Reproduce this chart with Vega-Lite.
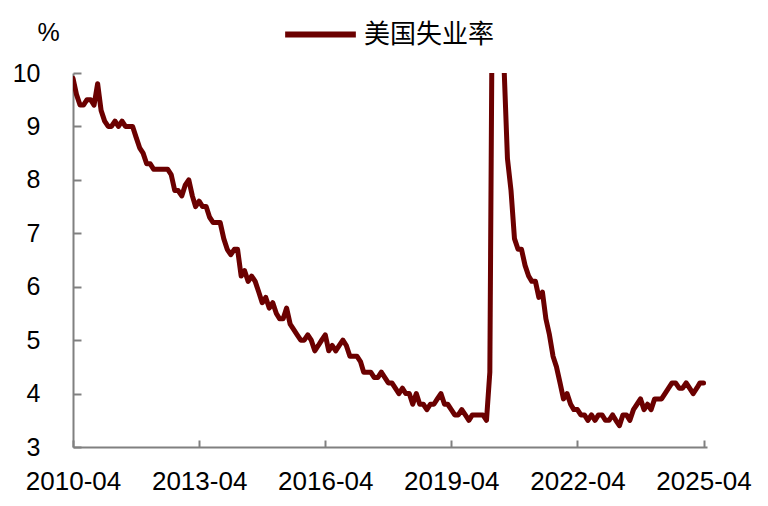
{
  "$schema": "https://vega.github.io/schema/vega-lite/v6.json",
  "autosize": "none",
  "width": 634,
  "height": 374,
  "padding": {"left": 73, "top": 73, "right": 61, "bottom": 59},
  "background": "white",
  "config": {"view": {"stroke": null}},
  "data": {"values": [
    {"date":"2010-04","rate":9.9},{"date":"2010-05","rate":9.6},{"date":"2010-06","rate":9.4},{"date":"2010-07","rate":9.4},{"date":"2010-08","rate":9.5},{"date":"2010-09","rate":9.5},{"date":"2010-10","rate":9.4},{"date":"2010-11","rate":9.8},{"date":"2010-12","rate":9.3},
    {"date":"2011-01","rate":9.1},{"date":"2011-02","rate":9.0},{"date":"2011-03","rate":9.0},{"date":"2011-04","rate":9.1},{"date":"2011-05","rate":9.0},{"date":"2011-06","rate":9.1},{"date":"2011-07","rate":9.0},{"date":"2011-08","rate":9.0},{"date":"2011-09","rate":9.0},{"date":"2011-10","rate":8.8},{"date":"2011-11","rate":8.6},{"date":"2011-12","rate":8.5},
    {"date":"2012-01","rate":8.3},{"date":"2012-02","rate":8.3},{"date":"2012-03","rate":8.2},{"date":"2012-04","rate":8.2},{"date":"2012-05","rate":8.2},{"date":"2012-06","rate":8.2},{"date":"2012-07","rate":8.2},{"date":"2012-08","rate":8.1},{"date":"2012-09","rate":7.8},{"date":"2012-10","rate":7.8},{"date":"2012-11","rate":7.7},{"date":"2012-12","rate":7.9},
    {"date":"2013-01","rate":8.0},{"date":"2013-02","rate":7.7},{"date":"2013-03","rate":7.5},{"date":"2013-04","rate":7.6},{"date":"2013-05","rate":7.5},{"date":"2013-06","rate":7.5},{"date":"2013-07","rate":7.3},{"date":"2013-08","rate":7.2},{"date":"2013-09","rate":7.2},{"date":"2013-10","rate":7.2},{"date":"2013-11","rate":6.9},{"date":"2013-12","rate":6.7},
    {"date":"2014-01","rate":6.6},{"date":"2014-02","rate":6.7},{"date":"2014-03","rate":6.7},{"date":"2014-04","rate":6.2},{"date":"2014-05","rate":6.3},{"date":"2014-06","rate":6.1},{"date":"2014-07","rate":6.2},{"date":"2014-08","rate":6.1},{"date":"2014-09","rate":5.9},{"date":"2014-10","rate":5.7},{"date":"2014-11","rate":5.8},{"date":"2014-12","rate":5.6},
    {"date":"2015-01","rate":5.7},{"date":"2015-02","rate":5.5},{"date":"2015-03","rate":5.4},{"date":"2015-04","rate":5.4},{"date":"2015-05","rate":5.6},{"date":"2015-06","rate":5.3},{"date":"2015-07","rate":5.2},{"date":"2015-08","rate":5.1},{"date":"2015-09","rate":5.0},{"date":"2015-10","rate":5.0},{"date":"2015-11","rate":5.1},{"date":"2015-12","rate":5.0},
    {"date":"2016-01","rate":4.8},{"date":"2016-02","rate":4.9},{"date":"2016-03","rate":5.0},{"date":"2016-04","rate":5.1},{"date":"2016-05","rate":4.8},{"date":"2016-06","rate":4.9},{"date":"2016-07","rate":4.8},{"date":"2016-08","rate":4.9},{"date":"2016-09","rate":5.0},{"date":"2016-10","rate":4.9},{"date":"2016-11","rate":4.7},{"date":"2016-12","rate":4.7},
    {"date":"2017-01","rate":4.7},{"date":"2017-02","rate":4.6},{"date":"2017-03","rate":4.4},{"date":"2017-04","rate":4.4},{"date":"2017-05","rate":4.4},{"date":"2017-06","rate":4.3},{"date":"2017-07","rate":4.3},{"date":"2017-08","rate":4.4},{"date":"2017-09","rate":4.3},{"date":"2017-10","rate":4.2},{"date":"2017-11","rate":4.2},{"date":"2017-12","rate":4.1},
    {"date":"2018-01","rate":4.0},{"date":"2018-02","rate":4.1},{"date":"2018-03","rate":4.0},{"date":"2018-04","rate":4.0},{"date":"2018-05","rate":3.8},{"date":"2018-06","rate":4.0},{"date":"2018-07","rate":3.8},{"date":"2018-08","rate":3.8},{"date":"2018-09","rate":3.7},{"date":"2018-10","rate":3.8},{"date":"2018-11","rate":3.8},{"date":"2018-12","rate":3.9},
    {"date":"2019-01","rate":4.0},{"date":"2019-02","rate":3.8},{"date":"2019-03","rate":3.8},{"date":"2019-04","rate":3.7},{"date":"2019-05","rate":3.6},{"date":"2019-06","rate":3.6},{"date":"2019-07","rate":3.7},{"date":"2019-08","rate":3.6},{"date":"2019-09","rate":3.5},{"date":"2019-10","rate":3.6},{"date":"2019-11","rate":3.6},{"date":"2019-12","rate":3.6},
    {"date":"2020-01","rate":3.6},{"date":"2020-02","rate":3.5},{"date":"2020-03","rate":4.4},{"date":"2020-04","rate":14.8},{"date":"2020-05","rate":13.2},{"date":"2020-06","rate":11.0},{"date":"2020-07","rate":10.2},{"date":"2020-08","rate":8.4},{"date":"2020-09","rate":7.8},{"date":"2020-10","rate":6.9},{"date":"2020-11","rate":6.7},{"date":"2020-12","rate":6.7},
    {"date":"2021-01","rate":6.4},{"date":"2021-02","rate":6.2},{"date":"2021-03","rate":6.1},{"date":"2021-04","rate":6.1},{"date":"2021-05","rate":5.8},{"date":"2021-06","rate":5.9},{"date":"2021-07","rate":5.4},{"date":"2021-08","rate":5.1},{"date":"2021-09","rate":4.7},{"date":"2021-10","rate":4.5},{"date":"2021-11","rate":4.2},{"date":"2021-12","rate":3.9},
    {"date":"2022-01","rate":4.0},{"date":"2022-02","rate":3.8},{"date":"2022-03","rate":3.7},{"date":"2022-04","rate":3.7},{"date":"2022-05","rate":3.6},{"date":"2022-06","rate":3.6},{"date":"2022-07","rate":3.5},{"date":"2022-08","rate":3.6},{"date":"2022-09","rate":3.5},{"date":"2022-10","rate":3.6},{"date":"2022-11","rate":3.6},{"date":"2022-12","rate":3.5},
    {"date":"2023-01","rate":3.5},{"date":"2023-02","rate":3.6},{"date":"2023-03","rate":3.5},{"date":"2023-04","rate":3.4},{"date":"2023-05","rate":3.6},{"date":"2023-06","rate":3.6},{"date":"2023-07","rate":3.5},{"date":"2023-08","rate":3.7},{"date":"2023-09","rate":3.8},{"date":"2023-10","rate":3.9},{"date":"2023-11","rate":3.7},{"date":"2023-12","rate":3.8},
    {"date":"2024-01","rate":3.7},{"date":"2024-02","rate":3.9},{"date":"2024-03","rate":3.9},{"date":"2024-04","rate":3.9},{"date":"2024-05","rate":4.0},{"date":"2024-06","rate":4.1},{"date":"2024-07","rate":4.2},{"date":"2024-08","rate":4.2},{"date":"2024-09","rate":4.1},{"date":"2024-10","rate":4.1},{"date":"2024-11","rate":4.2},{"date":"2024-12","rate":4.1},
    {"date":"2025-01","rate":4.0},{"date":"2025-02","rate":4.1},{"date":"2025-03","rate":4.2},{"date":"2025-04","rate":4.2}
  ]},
  "mark": {"type": "line", "clip": true, "strokeWidth": 5, "strokeJoin": "round", "strokeCap": "round"},
  "encoding": {
    "x": {
      "field": "date",
      "timeUnit": "utcyearmonth",
      "type": "temporal",
      "scale": {"domain": [{"year": 2010, "month": 4, "utc": true}, {"year": 2025, "month": 5, "utc": true}]},
      "axis": {
        "title": null,
        "grid": false,
        "format": "%Y-%m",
        "values": [
          {"year": 2010, "month": 4, "utc": true},
          {"year": 2013, "month": 4, "utc": true},
          {"year": 2016, "month": 4, "utc": true},
          {"year": 2019, "month": 4, "utc": true},
          {"year": 2022, "month": 4, "utc": true},
          {"year": 2025, "month": 4, "utc": true}
        ],
        "domainColor": "#808080",
        "domainWidth": 2,
        "tickColor": "#808080",
        "tickWidth": 2,
        "tickSize": -7,
        "labelFont": "Liberation Sans",
        "labelFontSize": 26,
        "labelColor": "#000000",
        "labelPadding": 28,
        "labelOverlap": false,
        "labelFlush": false
      }
    },
    "y": {
      "field": "rate",
      "type": "quantitative",
      "scale": {"domain": [3, 10], "nice": false, "zero": false},
      "axis": {
        "title": "%",
        "titleAngle": 0,
        "titleFont": "Liberation Sans",
        "titleFontSize": 25,
        "titleFontWeight": "normal",
        "titleColor": "#000000",
        "titleX": -25,
        "titleY": -41,
        "titleAlign": "center",
        "titleBaseline": "middle",
        "grid": false,
        "values": [3, 4, 5, 6, 7, 8, 9, 10],
        "domainColor": "#808080",
        "domainWidth": 2,
        "tickColor": "#808080",
        "tickWidth": 2,
        "tickSize": -8,
        "labelFont": "Liberation Sans",
        "labelFontSize": 25,
        "labelColor": "#000000",
        "labelPadding": 41,
        "labelOverlap": false,
        "labelFlush": false
      }
    },
    "color": {
      "datum": "美国失业率",
      "type": "nominal",
      "scale": {"range": ["#6B0000"]},
      "legend": {
        "title": null,
        "orient": "none",
        "legendX": 209,
        "legendY": -77,
        "symbolType": "stroke",
        "symbolSize": 5000,
        "symbolStrokeWidth": 6,
        "labelFont": "Noto Sans CJK SC",
        "labelFontSize": 26,
        "labelColor": "#000000",
        "labelOffset": 5
      }
    }
  }
}
